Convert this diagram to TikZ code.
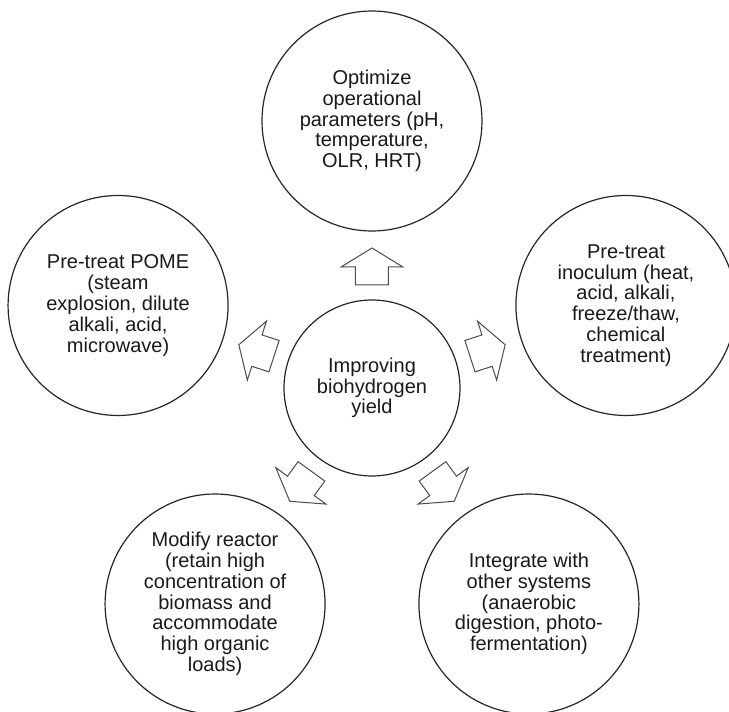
\documentclass[tikz,border=0pt]{standalone}
\usepackage{fontspec}
\setmainfont{Liberation Sans}
\usetikzlibrary{arrows}

\begin{document}
\begin{tikzpicture}[x=1pt,y=1pt,
  main node/.style={circle,draw=black!85,line width=1.2pt,minimum size=220pt,inner sep=0pt,
    align=center,text=black!90,font=\fontsize{20}{20.8}\selectfont},
  hub node/.style={main node,minimum size=176pt},
  block arrow/.style={draw=black!70,line width=1pt,fill=white,line join=miter}]
  \useasboundingbox (-372,-324) rectangle (357,388);
  \node[hub node] (hub) at (0,0) {Improving\\biohydrogen\\yield};
  \node[main node] (opt) at (90:267) {Optimize\\operational\\parameters (pH,\\temperature,\\OLR, HRT)};
  \node[main node] (pome) at (162:267) {Pre-treat POME\\(steam\\explosion, dilute\\alkali, acid,\\microwave)};
  \node[main node] (inoc) at (18:267) {Pre-treat\\inoculum (heat,\\acid, alkali,\\freeze/thaw,\\chemical\\treatment)};
  \node[main node] (reac) at (234:267) {Modify reactor\\(retain high\\concentration of\\biomass and\\accommodate\\high organic\\loads)};
  \node[main node] (integ) at (306:267) {Integrate with\\other systems\\(anaerobic\\digestion, photo-\\fermentation)};
  % block arrows from the hub outwards
  \foreach \a in {18,90,162,234,306}
    \draw[block arrow,shift={(hub)},rotate=\a]
      (103,-16.5) -- (121,-16.5) -- (121,-31) -- (140,0) -- (121,31) -- (121,16.5) -- (103,16.5) -- cycle;
\end{tikzpicture}
\end{document}
